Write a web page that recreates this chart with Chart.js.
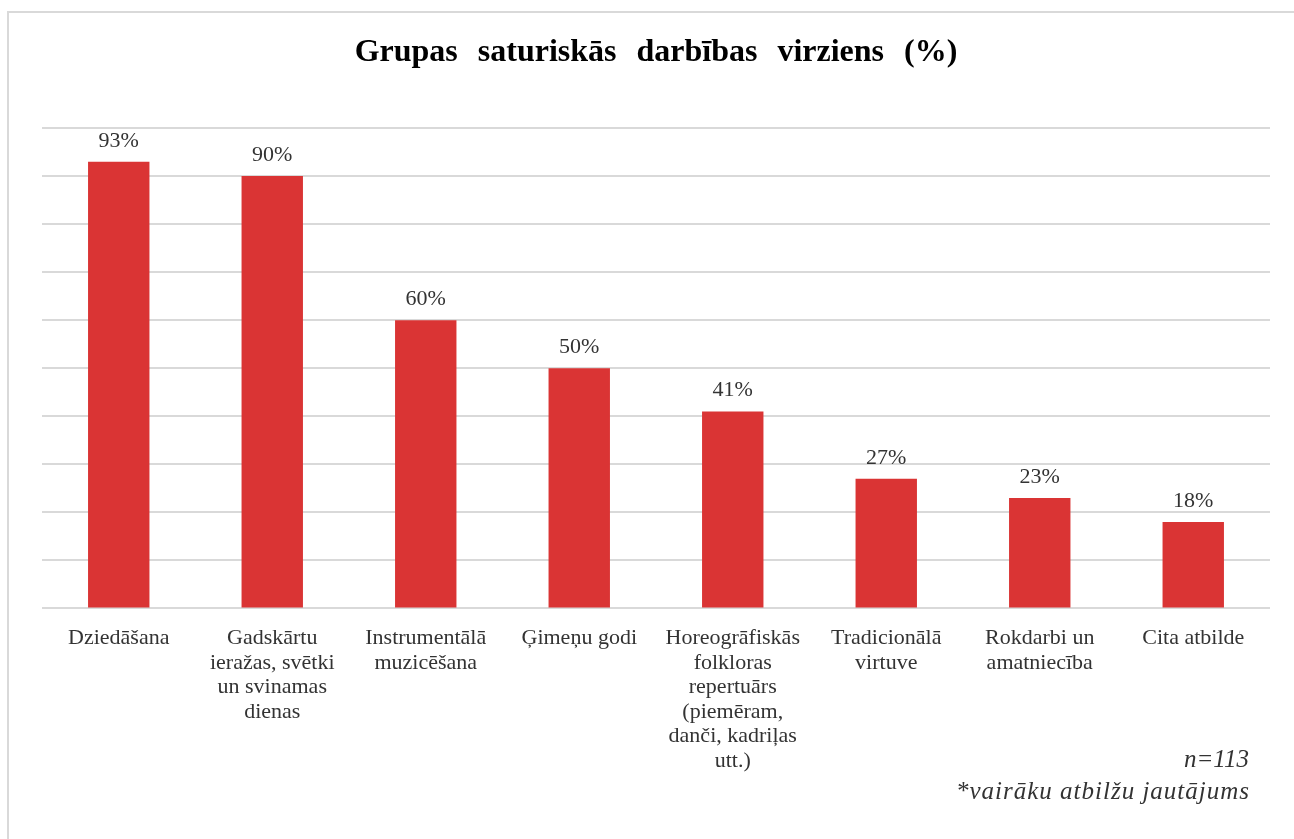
<!DOCTYPE html>
<html>
<head>
<meta charset="utf-8">
<script src="https://cdn.jsdelivr.net/npm/chart.js@4/dist/chart.umd.min.js"></script>
<style>
  html, body { margin: 0; padding: 0; background: #fff; }
  #wrap { position: relative; width: 1294px; height: 839px; overflow: hidden; }
  #frame { position: absolute; left: 7px; top: 11px; width: 1400px; height: 900px; border: 2px solid #d9d9d9; }
  #myChart { position: absolute; left: 0; top: 0; }
</style>
</head>
<body>
<div id="wrap">
  <div id="frame"></div>
  <canvas id="myChart" width="1294" height="839"></canvas>
</div>
<script>
const categories = [
  'Dziedāšana',
  ['Gadskārtu', 'ieražas, svētki', 'un svinamas', 'dienas'],
  ['Instrumentālā', 'muzicēšana'],
  'Ģimeņu godi',
  ['Horeogrāfiskās', 'folkloras', 'repertuārs', '(piemēram,', 'danči, kadriļas', 'utt.)'],
  ['Tradicionālā', 'virtuve'],
  ['Rokdarbi un', 'amatniecība'],
  'Cita atbilde'
];
const values = [93, 90, 60, 50, 41, 27, 23, 18];
const titleText = 'Grupas saturiskās darbības virziens (%)';
const noteLines = ['n=113', '*vairāku atbilžu jautājums'];

const serif = '"Liberation Serif", "Times New Roman", serif';

Chart.defaults.font.family = serif;
Chart.defaults.color = '#333';

const extras = {
  id: 'extras',
  afterDatasetsDraw(chart) {
    const ctx = chart.ctx;
    const meta = chart.getDatasetMeta(0);
    ctx.save();
    ctx.font = '22px ' + serif;
    ctx.fillStyle = '#333';
    ctx.textAlign = 'center';
    ctx.textBaseline = 'alphabetic';
    meta.data.forEach((bar, i) => {
      ctx.fillText(values[i] + '%', bar.x, bar.y - 15);
    });
    ctx.restore();
  },
  afterDraw(chart) {
    const ctx = chart.ctx;
    ctx.save();
    ctx.fillStyle = '#000';
    ctx.font = 'bold 32px ' + serif;
    ctx.wordSpacing = '12px';
    ctx.textAlign = 'center';
    ctx.textBaseline = 'middle';
    ctx.fillText(titleText, 656, 53);
    ctx.wordSpacing = '0px';

    ctx.font = 'italic 25px ' + serif;
    ctx.fillStyle = '#333';
    ctx.textAlign = 'right';
    ctx.fillText(noteLines[0], 1249, 760);
    ctx.letterSpacing = '1px';
    ctx.fillText(noteLines[1], 1250, 792);
    ctx.restore();
  }
};

const ctx = document.getElementById('myChart').getContext('2d');
const myChart = new Chart(ctx, {
  type: 'bar',
  data: {
    labels: categories,
    datasets: [{
      data: values,
      backgroundColor: '#DA3434',
      barPercentage: 0.8,
      categoryPercentage: 0.5
    }]
  },
  options: {
    responsive: false,
    animation: false,
    layout: { padding: { left: 42, right: 24, top: 128, bottom: 56 } },
    plugins: {
      legend: { display: false },
      tooltip: { enabled: false }
    },
    scales: {
      x: {
        grid: { display: false },
        border: { display: false },
        ticks: {
          maxRotation: 0,
          autoSkip: false,
          padding: 10,
          color: '#333',
          font: { size: 22, lineHeight: 1.11 }
        }
      },
      y: {
        min: 0,
        max: 100,
        ticks: { display: false, stepSize: 10 },
        border: { display: false },
        grid: { color: '#d9d9d9', lineWidth: 2, drawTicks: false }
      }
    }
  },
  plugins: [extras]
});
</script>
</body>
</html>
